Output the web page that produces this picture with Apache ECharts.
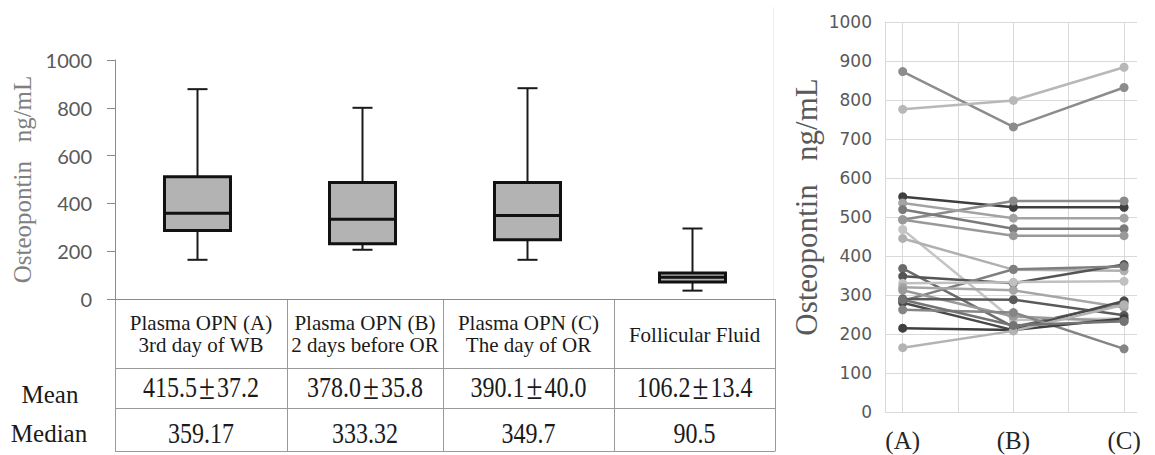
<!DOCTYPE html>
<html>
<head>
<meta charset="utf-8">
<script src="https://cdn.jsdelivr.net/npm/echarts@6/dist/echarts.min.js"></script>
<style>
html,body{margin:0;padding:0;background:#fff;}
#chart{width:1155px;height:455px;}
</style>
</head>
<body>
<div id="chart"></div>
<script>
// ---- Left panel: box plot data ----
const groups = ['Plasma OPN (A)', 'Plasma OPN (B)', 'Plasma OPN (C)', 'Follicular Fluid'];
const groupSubtitles = ['3rd day of WB', '2 days before OR', 'The day of OR', ''];
const whiskerLow = [164, 206, 164, 35];
const quartile1 = [287, 231, 248, 71];
const medians = [359.17, 333.32, 349.7, 90.5];
const quartile3 = [512, 487, 487, 109];
const whiskerHigh = [878, 800, 882, 295];

// ---- Table under the box plot ----
const rowLabels = ['Mean', 'Median'];
const meanValues = ['415.5', '378.0', '390.1', '106.2'];
const meanErrors = ['37.2', '35.8', '40.0', '13.4'];
const medianText = ['359.17', '333.32', '349.7', '90.5'];

// ---- Right panel: individual patients ----
const timepoints = ['(A)', '(B)', '(C)'];
const opnA = [873, 776, 552, 493, 536, 519, 493, 468, 445, 368, 348, 285, 330, 320, 312, 290, 280, 262, 215, 165, 288];
const opnB = [731, 799, 525, 541, 497, 470, 452, 236, 365, 218, 330, 366, 333, 312, 245, 288, 210, 255, 210, 208, 222];
const opnC = [832, 884, 525, 541, 497, 470, 452, 240, 362, 280, 378, 373, 335, 268, 232, 248, 285, 162, 240, 275, 233];
const lineGrays = ['#8c8c8c','#b8b8b8','#3f3f3f','#8a8a8a','#a3a3a3','#7a7a7a','#999999','#c4c4c4','#b0b0b0','#6b6b6b','#545454','#7f7f7f','#c0c0c0','#a6a6a6','#9a9a9a','#5a5a5a','#4a4a4a','#858585','#3f3f3f','#b3b3b3','#737373'];
const axisTitle = 'Osteopontin   ng/mL';

const SERIF = '"Liberation Serif", "Times New Roman", serif';
const chart = echarts.init(document.getElementById('chart'), null, {renderer: 'svg'});

const boxData = groups.map((g, i) => [i, whiskerLow[i], quartile1[i], medians[i], quartile3[i], whiskerHigh[i]]);

function renderBox(params, api) {
  const i = api.value(0);
  const lo = api.coord([i, api.value(1)]);
  const q1 = api.coord([i, api.value(2)]);
  const md = api.coord([i, api.value(3)]);
  const q3 = api.coord([i, api.value(4)]);
  const hi = api.coord([i, api.value(5)]);
  const band = api.size([1, 0])[0];
  const bw = band * 0.4;
  const cap = 20;
  const x = lo[0];
  const wl = {stroke: '#1a1a1a', lineWidth: 2};
  return {
    type: 'group',
    children: [
      {type: 'line', shape: {x1: x, y1: hi[1], x2: x, y2: q3[1]}, style: wl},
      {type: 'line', shape: {x1: x, y1: lo[1], x2: x, y2: q1[1]}, style: wl},
      {type: 'line', shape: {x1: x - cap/2, y1: hi[1], x2: x + cap/2, y2: hi[1]}, style: wl},
      {type: 'line', shape: {x1: x - cap/2, y1: lo[1], x2: x + cap/2, y2: lo[1]}, style: wl},
      {type: 'rect', shape: {x: x - bw/2, y: q3[1], width: bw, height: q1[1] - q3[1]},
        style: {fill: '#b3b3b3', stroke: '#111', lineWidth: 3}},
      {type: 'line', shape: {x1: x - bw/2, y1: md[1], x2: x + bw/2, y2: md[1]}, style: {stroke: '#111', lineWidth: 3}}
    ]
  };
}

// table graphic
const colEdges = [115, 287, 443, 614, 775];
const rowEdges = [299, 368, 408, 451];
const tableGraphics = [];
const gridC = '#9a9a9a';
rowEdges.slice(1).forEach(y => {
  tableGraphics.push({type: 'line', shape: {x1: 115, y1: y + 0.5, x2: 775, y2: y + 0.5}, style: {stroke: gridC, lineWidth: 1}});
});
colEdges.forEach(x => {
  tableGraphics.push({type: 'line', shape: {x1: x + 0.5, y1: 299, x2: x + 0.5, y2: 451.5}, style: {stroke: gridC, lineWidth: 1}});
});
tableGraphics.push({type: 'line', shape: {x1: 773.5, y1: 7, x2: 773.5, y2: 299}, style: {stroke: '#efefef', lineWidth: 1}});

function txt(text, x, y, size, color, extra, rich) {
  const st = {text: text, fill: color, font: size + 'px ' + SERIF,
      fontSize: size, fontFamily: SERIF,
      align: 'center', verticalAlign: 'middle', textAlign: 'center', textVerticalAlign: 'middle', lineHeight: 22};
  if (rich) st.rich = rich;
  return Object.assign({type: 'text', x: x, y: y, style: st}, extra || {});
}
const valRich = {
  v: {fontSize: 24, fontFamily: SERIF, fill: '#1a1a1a', lineHeight: 26},
  pm: {fontSize: 29, fontFamily: SERIF, fill: '#1a1a1a', lineHeight: 26, padding: [0, 2, 0, 2]}
};
const stretch = {scaleY: 1.22, originX: 0, originY: 0};
groups.forEach((g, i) => {
  const cx = (colEdges[i] + colEdges[i + 1]) / 2;
  const head = groupSubtitles[i] ? g + '\n' + groupSubtitles[i] : g;
  tableGraphics.push(txt(head, cx, groupSubtitles[i] ? 334 : 335, 21, '#1a1a1a'));
  tableGraphics.push(txt('{v|' + meanValues[i] + '}{pm|\u00B1}{v|' + meanErrors[i] + '}', cx, 387, 24, '#1a1a1a',
    Object.assign({}, stretch), valRich));
  tableGraphics.push(txt(medianText[i], cx, 433, 24, '#1a1a1a', Object.assign({}, stretch)));
});
tableGraphics.push(txt(rowLabels[0], 50, 394, 25, '#1a1a1a'));
tableGraphics.push(txt(rowLabels[1], 49, 433, 25, '#1a1a1a'));
tableGraphics.push(txt(axisTitle, 806, 207, 31, '#595959', {rotation: Math.PI / 2}));

const lineSeries = opnA.map((a, k) => ({
  type: 'line',
  xAxisIndex: 1, yAxisIndex: 1,
  data: [[1, a], [2, opnB[k]], [3, opnC[k]]],
  symbol: 'circle', symbolSize: 9,
  lineStyle: {color: lineGrays[k], width: 2.5},
  itemStyle: {color: lineGrays[k]},
  z: 3, silent: true, animation: false
}));

const plain = v => String(v);

const option = {
  animation: false,
  grid: [
    {left: 115, top: 60, width: 660, height: 239},
    {left: 885, top: 22, width: 252, height: 390}
  ],
  xAxis: [
    {gridIndex: 0, type: 'category', data: groups, boundaryGap: true,
      axisLine: {show: true, lineStyle: {color: '#8a8a8a', width: 1}},
      axisTick: {show: false}, axisLabel: {show: false}, splitLine: {show: false}},
    {gridIndex: 1, type: 'value', min: 0.84, max: 3.117,
      axisLine: {show: false}, axisTick: {show: false}, splitLine: {show: false},
      axisLabel: {show: true, customValues: [1, 2, 3], formatter: v => timepoints[Math.round(v) - 1] || '',
        fontFamily: SERIF, fontSize: 25, color: '#262626', margin: 16}}
  ],
  yAxis: [
    {gridIndex: 0, type: 'value', min: 0, max: 1000, interval: 200,
      axisLine: {show: true, lineStyle: {color: '#8a8a8a', width: 1}},
      axisTick: {show: true, length: 8, lineStyle: {color: '#8a8a8a'}},
      axisLabel: {fontFamily: 'Lato, "Liberation Sans", sans-serif', fontSize: 20, color: '#595959', margin: 23, formatter: plain},
      splitLine: {show: false},
      name: axisTitle, nameLocation: 'middle', nameRotate: 90, nameGap: 72,
      nameTextStyle: {fontFamily: SERIF, fontSize: 25, color: '#808080'}},
    {gridIndex: 1, type: 'value', min: 0, max: 1000, interval: 100,
      axisLine: {show: true, lineStyle: {color: '#d9d9d9', width: 1}},
      axisTick: {show: false},
      axisLabel: {fontFamily: '"DejaVu Sans", sans-serif', fontSize: 17, color: '#595959', margin: 13, formatter: plain},
      splitLine: {show: true, lineStyle: {color: '#d9d9d9', width: 1}}}
  ],
  graphic: tableGraphics,
  series: [
    {type: 'custom', xAxisIndex: 0, yAxisIndex: 0, renderItem: renderBox, data: boxData,
      encode: {x: 0, y: [1, 2, 3, 4, 5]}, clip: false, silent: true, z: 3},
    {type: 'line', xAxisIndex: 1, yAxisIndex: 1, data: [], symbol: 'none', silent: true, z: 1,
      markLine: {silent: true, symbol: 'none', z: 1, label: {show: false},
        lineStyle: {color: '#d9d9d9', width: 1, type: 'solid'},
        data: [{xAxis: 1}, {xAxis: 1.5}, {xAxis: 2}, {xAxis: 2.5}, {xAxis: 3}]}}
  ].concat(lineSeries)
};
chart.setOption(option);
</script>
</body>
</html>
